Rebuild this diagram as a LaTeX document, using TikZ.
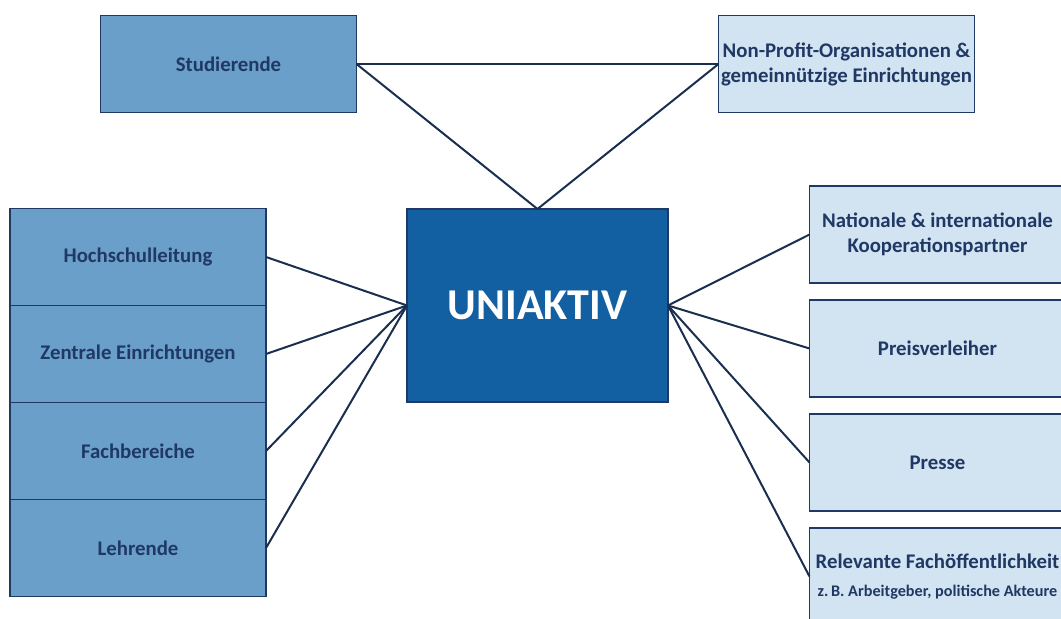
\documentclass[tikz,border=0pt]{standalone}
\usepackage{fontspec}
\setmainfont{Carlito}
\usepackage{xcolor}
\usepackage{tikz}
\usetikzlibrary{positioning}

\definecolor{midblue}{HTML}{6A9FCA}
\definecolor{lightblue}{HTML}{D2E3F2}
\definecolor{coreblue}{HTML}{125FA1}
\definecolor{navy}{HTML}{1F3864}
\definecolor{linenavy}{HTML}{1A2E50}

\begin{document}
\begin{tikzpicture}[
    node distance=8.5pt and 0pt,
    groupbox/.style={rectangle, draw=navy, line width=0.75pt, inner sep=0pt,
        outer sep=0pt, minimum width=128pt, minimum height=48.5pt, align=center,
        text=navy, font=\fontsize{10.4}{12.5}\selectfont\bfseries},
    inbox/.style={groupbox, fill=midblue},
    outbox/.style={groupbox, fill=lightblue},
    corebox/.style={rectangle, draw=navy, line width=0.75pt, fill=coreblue,
        outer sep=0pt, minimum width=130.5pt, minimum height=96.5pt, text=white,
        font=\fontsize{22}{26}\selectfont\bfseries},
    link/.style={draw=linenavy, line width=1pt}
]
\useasboundingbox (0,0) rectangle (530.5pt,-309.5pt);

% center
\node[corebox] (uni) at (268.75pt,-152.75pt) {\raisebox{-2pt}{UNIAKTIV}};

% top row
\node[inbox] (stud) at (114.25pt,-32pt) {Studierende};
\node[outbox] (npo) at (423.25pt,-32pt) {Non-Profit-Organisationen \&\\gemeinnützige Einrichtungen};

% left stack
\node[inbox] (hsl) at (69pt,-128.5pt) {Hochschulleitung};
\node[inbox] (zen) [below=0pt of hsl] {Zentrale Einrichtungen};
\node[inbox] (fbr) [below=0pt of zen] {Fachbereiche};
\node[inbox] (leh) [below=0pt of fbr] {Lehrende};

% right column
\node[outbox] (koop) at (468.75pt,-117.25pt) {Nationale \& internationale\\Kooperationspartner};
\node[outbox] (preis) [below=of koop] {Preisverleiher};
\node[outbox] (presse) [below=of preis] {Presse};
\node[outbox] (fach) [below=of presse] {Relevante Fachöffentlichkeit\\[1.5pt]{\fontsize{8.1}{10}\selectfont z.\,B. Arbeitgeber, politische Akteure}};

\draw[link] (stud.east) -- (npo.west);
\draw[link] (stud.east) -- (uni.north);
\draw[link] (npo.west) -- (uni.north);

\foreach \n in {hsl,zen,fbr,leh}
    \draw[link] (\n.east) -- (uni.west);
\foreach \n in {koop,preis,presse,fach}
    \draw[link] (uni.east) -- (\n.west);
\end{tikzpicture}
\end{document}
